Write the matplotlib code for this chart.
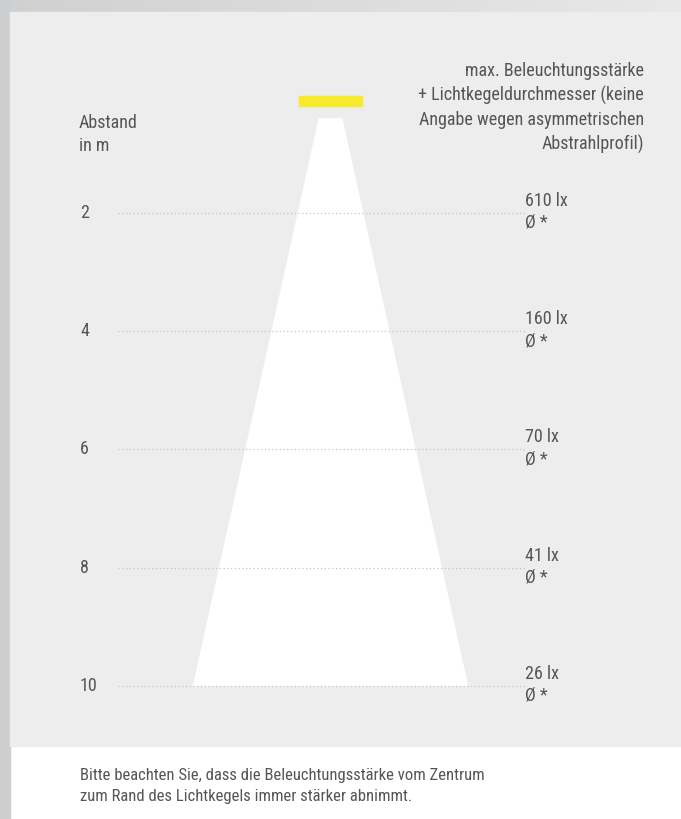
import matplotlib
matplotlib.use("Agg")
import matplotlib.pyplot as plt
import matplotlib.font_manager as fm
import numpy as np
from matplotlib.patches import Rectangle, Polygon

# Daten
abstand = [2, 4, 6, 8, 10]
lux = [610, 160, 70, 41, 26]
durchmesser = ["*", "*", "*", "*", "*"]
kopf = ["max. Beleuchtungsstärke",
        "+ Lichtkegeldurchmesser (keine",
        "Angabe wegen asymmetrischen",
        "Abstrahlprofil)"]
hinweis = ["Bitte beachten Sie, dass die Beleuchtungsstärke vom Zentrum",
           "zum Rand des Lichtkegels immer stärker abnimmt."]

namen = {f.name for f in fm.fontManager.ttflist}
schrift = "Roboto"
for kandidat in ["Liberation Sans Narrow", "Roboto Condensed", "Open Sans Condensed"]:
    if kandidat in namen:
        schrift = kandidat
        break
schmal = schrift != "Roboto"
plt.rcParams["font.family"] = [schrift, "DejaVu Sans"]

fs_lab = 13 if schmal else 12
fs_kopf = 13 if schmal else 11.2
fs_hin = 12 if schmal else 10.8

txt = "#555555"
W, H = 681, 819
px_m = 59.1      # Pixel pro Meter
y0 = 94.8        # Pixel-Lage der Leuchte (0 m)

fig = plt.figure(figsize=(W / 100, H / 100), dpi=100)
fig.patch.set_facecolor("white")
ax = fig.add_axes([0, 0, 1, 1])
ax.set_xlim(0, W)
ax.set_ylim((H - y0) / px_m, -y0 / px_m)
ax.axis("off")

def m(p):
    return (p - y0) / px_m

# Hintergrund
grad = np.linspace(0, 1, 256).reshape(1, -1)
ax.imshow(grad, extent=(0, W, m(12), m(0)), aspect="auto",
          cmap=matplotlib.colors.LinearSegmentedColormap.from_list("g", ["#cfd0d1", "#e7e8e9"]),
          zorder=0)
ax.add_patch(Rectangle((0, m(0)), 10, m(H) - m(0), color="#cdcecf", zorder=1))
ax.add_patch(Rectangle((10, m(12)), W - 10, m(745.5) - m(12), color="#ededed", zorder=1))

# Leuchte und Lichtkegel
mitte = 330.5
ax.add_patch(Rectangle((299, m(96)), 63, m(105.5) - m(96), color="#f7ea2c", zorder=3))
def halb(d):
    return 6 + 13.1 * d
d_top, d_bot = m(119), max(abstand)
ax.add_patch(Polygon([(mitte - halb(d_top), d_top), (mitte + halb(d_top), d_top),
                      (mitte + halb(d_bot), d_bot), (mitte - halb(d_bot), d_bot)],
                     closed=True, color="white", zorder=2))

# Hilfslinien und Beschriftung
for d, l, dm in zip(abstand, lux, durchmesser):
    ax.plot([118, 525], [d, d], color="#c4c4c4", lw=0.9, ls=(0, (1, 2)), zorder=2.5)
    ax.text(80, d, str(d), fontsize=fs_lab, color=txt, va="center", ha="left")
    ax.text(525, d - 12 / px_m, f"{l} lx", fontsize=fs_lab, color=txt, va="center", ha="left")
    ax.text(525, d + 10 / px_m, f"Ø {dm}", fontsize=fs_lab, color=txt, va="center", ha="left")

ax.text(79, m(128), "Abstand", fontsize=fs_lab, color=txt, va="baseline", ha="left")
ax.text(79, m(151), "in m", fontsize=fs_lab, color=txt, va="baseline", ha="left")

for i, zeile in enumerate(kopf):
    ax.text(644, m(76 + i * 24.7), zeile, fontsize=fs_kopf, color=txt, va="baseline", ha="right")

for i, zeile in enumerate(hinweis):
    ax.text(80, m(780 + i * 21), zeile, fontsize=fs_hin, color=txt, va="baseline", ha="left")

fig.savefig("out.png", dpi=100, facecolor="white")
